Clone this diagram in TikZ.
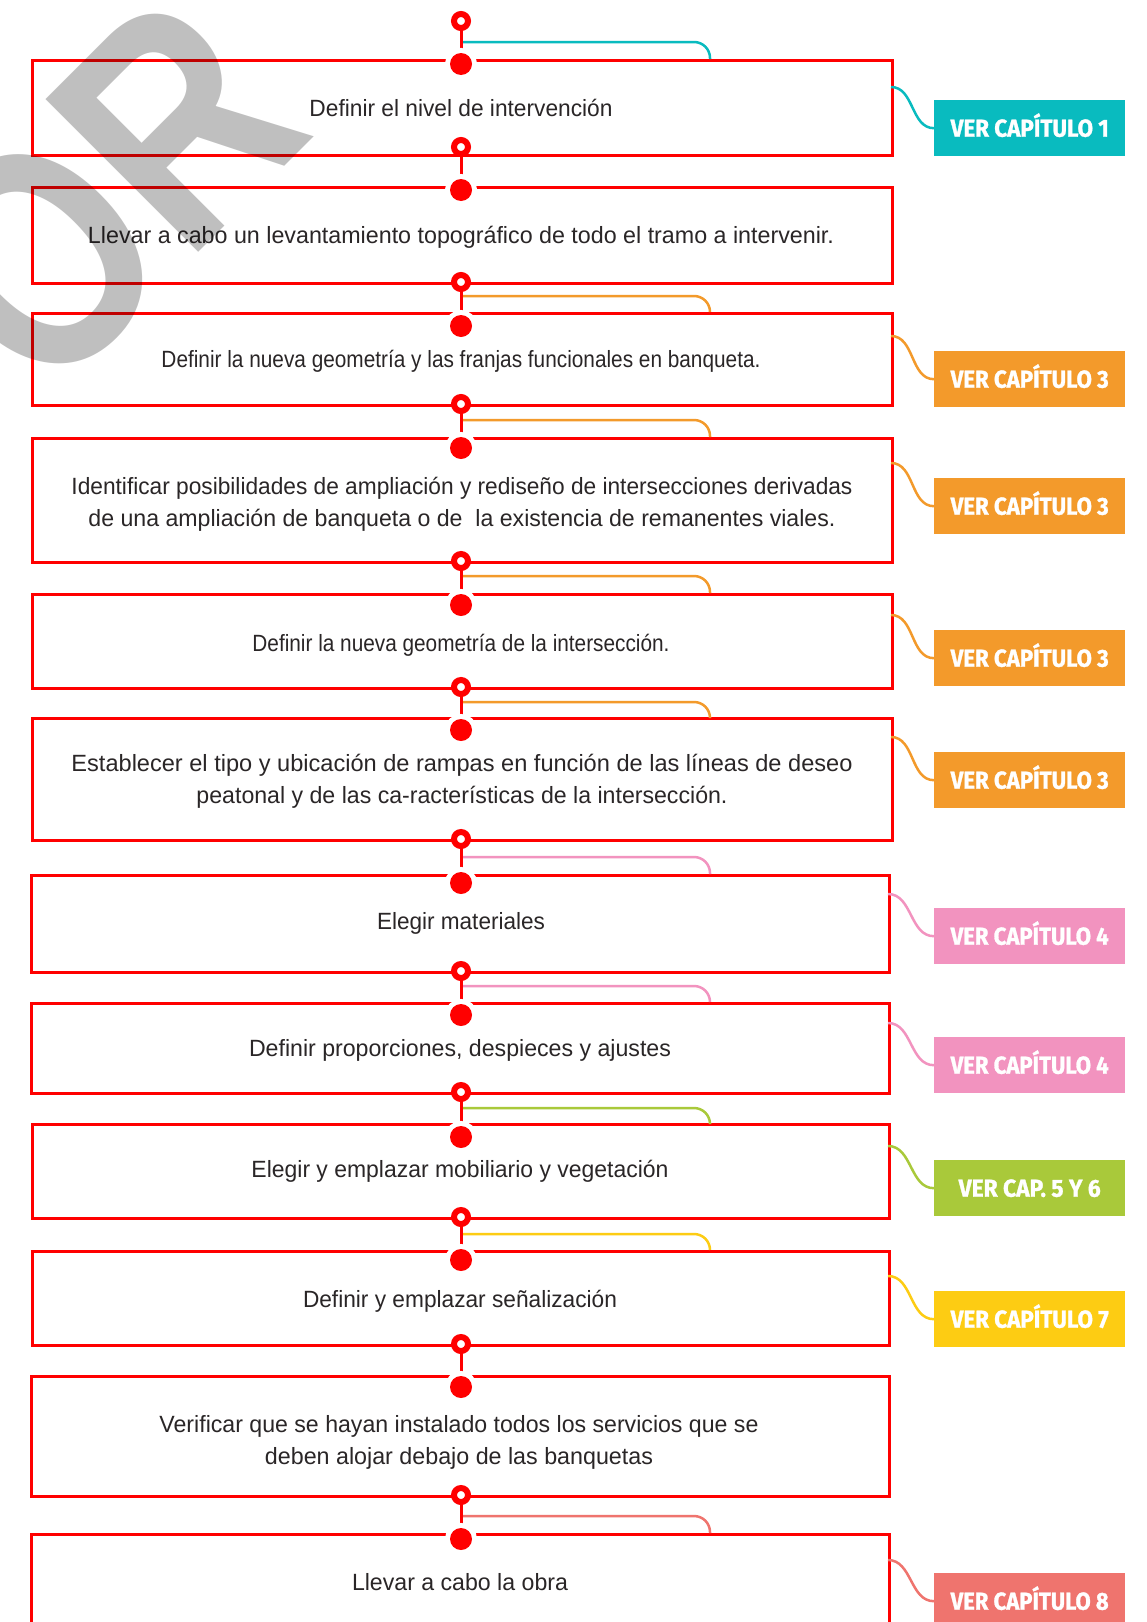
\documentclass[tikz,border=0pt]{standalone}
\usepackage{fontspec}
\usepackage{graphicx}
\setmainfont{Liberation Sans}
\newfontfamily\labfont{Fira Sans}[BoldFeatures={FakeBold=1.3}]
\newfontfamily\wmfont{Liberation Sans}
\definecolor{boxred}{HTML}{FF0000}
\definecolor{cteal}{HTML}{09BBBF}
\definecolor{corange}{HTML}{F39A2B}
\definecolor{cpink}{HTML}{F293BF}
\definecolor{cgreen}{HTML}{A9C93A}
\definecolor{cyellow}{HTML}{FDCC13}
\definecolor{csalmon}{HTML}{EF746E}
\definecolor{txt}{HTML}{2A2627}
\newcommand\fitw[2]{\resizebox{#1pt}{\height}{#2}}
\begin{document}
\begin{tikzpicture}[x=1pt,y=-1pt,
  stepbox/.style={draw=boxred, line width=2.8pt, inner sep=0, anchor=north west},
  steptext/.style={anchor=base, inner sep=0, text=txt, font=\fontsize{23.5}{28}\selectfont},
  ringmark/.style={circle, draw=boxred, line width=6pt, fill=white, minimum size=14pt, inner sep=0},
  dotmark/.style={circle, fill=boxred, minimum size=22pt, inner sep=0, preaction={draw=white, line width=10pt}},
  stem/.style={draw=boxred, line width=3pt},
  link/.style={line width=2.5pt, rounded corners=16pt},
  side/.style={line width=2.5pt},
  chap/.style={anchor=north west, minimum width=191pt, minimum height=56pt, inner sep=0, text=white, text height=17pt, text depth=0pt, font=\labfont\bfseries\fontsize{24.5}{28}\selectfont},
]
\useasboundingbox (0,0) rectangle (1147,1622);
\clip (0,0) rectangle (1147,1622);
\fill[white] (0,0) rectangle (1147,1622);

% boxes
\node[stepbox, minimum width=860pt, minimum height=95pt] (b1) at (31,59) {};
\node[stepbox, minimum width=860pt, minimum height=96pt] (b2) at (31,186) {};
\node[stepbox, minimum width=860pt, minimum height=92pt] (b3) at (31,312) {};
\node[stepbox, minimum width=860pt, minimum height=124pt] (b4) at (31,437) {};
\node[stepbox, minimum width=860pt, minimum height=94pt] (b5) at (31,593) {};
\node[stepbox, minimum width=860pt, minimum height=122pt] (b6) at (31,717) {};
\node[stepbox, minimum width=858pt, minimum height=97pt] (b7) at (30,874) {};
\node[stepbox, minimum width=858pt, minimum height=90pt] (b8) at (30,1002) {};
\node[stepbox, minimum width=857pt, minimum height=94pt] (b9) at (31,1123) {};
\node[stepbox, minimum width=857pt, minimum height=94pt] (b10) at (31,1250) {};
\node[stepbox, minimum width=858pt, minimum height=120pt] (b11) at (30,1375) {};
\node[stepbox, minimum width=858pt, minimum height=130pt] (b12) at (30,1533) {};

% texts
\node[steptext] (t1) at (461,116.5) {\fitw{303}{Definir el nivel de intervención}};
\node[steptext] (t2) at (461,243) {\fitw{746}{Llevar a cabo un levantamiento topográfico de todo el tramo a intervenir.}};
\node[steptext] (t3) at (461,367) {\fitw{599}{Definir la nueva geometría y las franjas funcionales en banqueta.}};
\node[steptext] (t4a) at (462,494) {\fitw{781}{Identificar posibilidades de ampliación y rediseño de intersecciones derivadas}};
\node[steptext] (t4b) at (462,526) {\fitw{747}{de una ampliación de banqueta o de~ la existencia de remanentes viales.}};
\node[steptext] (t5) at (461,651) {\fitw{417}{Definir la nueva geometría de la intersección.}};
\node[steptext] (t6a) at (462,771) {\fitw{781}{Establecer el tipo y ubicación de rampas en función de las líneas de deseo}};
\node[steptext] (t6b) at (462,803) {\fitw{531}{peatonal y de las ca-racterísticas de la intersección.}};
\node[steptext] (t7) at (461,929.5) {\fitw{168}{Elegir materiales}};
\node[steptext] (t8) at (460,1056) {\fitw{422}{Definir proporciones, despieces y ajustes}};
\node[steptext] (t9) at (460,1177) {\fitw{417}{Elegir y emplazar mobiliario y vegetación}};
\node[steptext] (t10) at (460,1307) {\fitw{314}{Definir y emplazar señalización}};
\node[steptext] (t11a) at (459,1432) {\fitw{599}{Verificar que se hayan instalado todos los servicios que se}};
\node[steptext] (t11b) at (459,1464) {\fitw{388}{deben alojar debajo de las banquetas}};
\node[steptext] (t12) at (460,1590) {\fitw{216}{Llevar a cabo la obra}};

% chapter labels
\node[chap, fill=cteal] (l1) at (934,100) {\fitw{158}{VER CAPÍTULO 1}};
\node[chap, fill=corange] (l3) at (934,351) {\fitw{158}{VER CAPÍTULO 3}};
\node[chap, fill=corange] (l4) at (934,478) {\fitw{158}{VER CAPÍTULO 3}};
\node[chap, fill=corange] (l5) at (934,630) {\fitw{158}{VER CAPÍTULO 3}};
\node[chap, fill=corange] (l6) at (934,752) {\fitw{158}{VER CAPÍTULO 3}};
\node[chap, fill=cpink] (l7) at (934,908) {\fitw{158}{VER CAPÍTULO 4}};
\node[chap, fill=cpink] (l8) at (934,1037) {\fitw{158}{VER CAPÍTULO 4}};
\node[chap, fill=cgreen] (l9) at (934,1160) {\fitw{142}{VER CAP. 5 Y 6}};
\node[chap, fill=cyellow] (l10) at (934,1291) {\fitw{158}{VER CAPÍTULO 7}};
\node[chap, fill=csalmon] (l12) at (934,1573) {\fitw{158}{VER CAPÍTULO 8}};

% side connectors from box to label
\coordinate (s1) at (891,87);
\coordinate (s3) at (891,336);
\coordinate (s4) at (891,463);
\coordinate (s5) at (891,615);
\coordinate (s6) at (891,737);
\coordinate (s7) at (888,894);
\coordinate (s8) at (888,1023);
\coordinate (s9) at (888,1146);
\coordinate (s10) at (888,1276);
\coordinate (s12) at (888,1560);
\draw[side, cteal] (s1) to[out=0, in=180] (l1.west);
\draw[side, corange] (s3) to[out=0, in=180] (l3.west);
\draw[side, corange] (s4) to[out=0, in=180] (l4.west);
\draw[side, corange] (s5) to[out=0, in=180] (l5.west);
\draw[side, corange] (s6) to[out=0, in=180] (l6.west);
\draw[side, cpink] (s7) to[out=0, in=180] (l7.west);
\draw[side, cpink] (s8) to[out=0, in=180] (l8.west);
\draw[side, cgreen] (s9) to[out=0, in=180] (l9.west);
\draw[side, cyellow] (s10) to[out=0, in=180] (l10.west);
\draw[side, csalmon] (s12) to[out=0, in=180] (l12.west);

% rings and dots positions
\coordinate (r1) at (461,21);
\coordinate (r2) at (461,147);
\coordinate (r3) at (461,282);
\coordinate (r4) at (461,404);
\coordinate (r5) at (461,561);
\coordinate (r6) at (461,687);
\coordinate (r7) at (461,839);
\coordinate (r8) at (461,971);
\coordinate (r9) at (461,1092);
\coordinate (r10) at (461,1217);
\coordinate (r11) at (461,1344);
\coordinate (r12) at (461,1495);

% coloured branch lines from stem to box top
\coordinate (c1) at (461,42);   \coordinate (k1) at (710,59);
\coordinate (c3) at (461,296);  \coordinate (k3) at (710,312);
\coordinate (c4) at (461,420);  \coordinate (k4) at (710,437);
\coordinate (c5) at (461,576);  \coordinate (k5) at (710,593);
\coordinate (c6) at (461,702);  \coordinate (k6) at (710,717);
\coordinate (c7) at (461,857);  \coordinate (k7) at (710,874);
\coordinate (c8) at (461,986);  \coordinate (k8) at (710,1002);
\coordinate (c9) at (461,1108); \coordinate (k9) at (710,1123);
\coordinate (c10) at (461,1234); \coordinate (k10) at (710,1250);
\coordinate (c12) at (461,1516); \coordinate (k12) at (710,1533);
\draw[link, cteal] (c1) -- (c1 -| k1) -- (k1);
\draw[link, corange] (c3) -- (c3 -| k3) -- (k3);
\draw[link, corange] (c4) -- (c4 -| k4) -- (k4);
\draw[link, corange] (c5) -- (c5 -| k5) -- (k5);
\draw[link, corange] (c6) -- (c6 -| k6) -- (k6);
\draw[link, cpink] (c7) -- (c7 -| k7) -- (k7);
\draw[link, cpink] (c8) -- (c8 -| k8) -- (k8);
\draw[link, cgreen] (c9) -- (c9 -| k9) -- (k9);
\draw[link, cyellow] (c10) -- (c10 -| k10) -- (k10);
\draw[link, csalmon] (c12) -- (c12 -| k12) -- (k12);

% dots
\coordinate (d1) at (461,64);
\coordinate (d2) at (461,190);
\coordinate (d3) at (461,326);
\coordinate (d4) at (461,448);
\coordinate (d5) at (461,605);
\coordinate (d6) at (461,730);
\coordinate (d7) at (461,883);
\coordinate (d8) at (461,1015);
\coordinate (d9) at (461,1137);
\coordinate (d10) at (461,1260);
\coordinate (d11) at (461,1387);
\coordinate (d12) at (461,1539);

\foreach \i in {1,...,12} {
  \draw[stem] (r\i) -- (d\i);
}
\foreach \i in {1,...,12} {
  \node[dotmark] (dm\i) at (d\i) {};
  \node[ringmark] (rm\i) at (r\i) {};
}

% watermark
\node[rotate=45, anchor=base east, inner sep=0, text=black, text opacity=0.25,
      font=\wmfont\bfseries\fontsize{314}{314}\selectfont] (wm) at (318,133)
      {\scalebox{0.82}[1]{OR}};
\end{tikzpicture}
\end{document}
